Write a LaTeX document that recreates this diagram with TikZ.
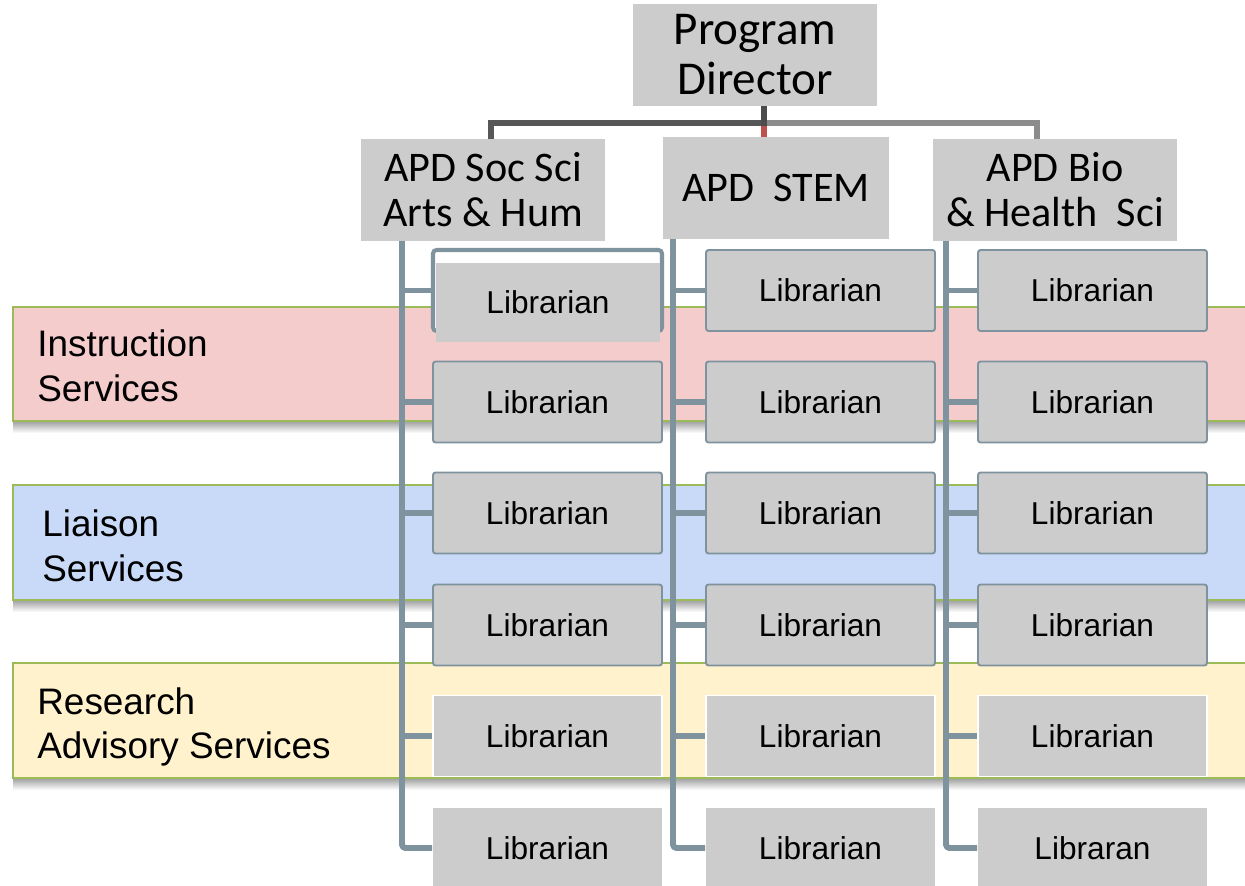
\documentclass[tikz,border=0pt]{standalone}
\usepackage{fontspec}
\setmainfont{Liberation Sans}
\newfontfamily\calfont{Carlito}
\definecolor{boxgray}{HTML}{CCCCCC}
\definecolor{barblue}{HTML}{7F939F}
\definecolor{bandgreen}{HTML}{9BBB59}
\definecolor{bandpink}{HTML}{F4CCCC}
\definecolor{bandblue}{HTML}{C9DAF8}
\definecolor{bandyellow}{HTML}{FFF2CC}
\definecolor{linkdark}{HTML}{575757}
\definecolor{linklight}{HTML}{8C8C8C}
\definecolor{linkred}{HTML}{C0504D}
\begin{document}
\begin{tikzpicture}[x=0.02cm,y=-0.02cm,
  band/.style={draw=bandgreen, line width=1pt},
  bandshade/.style={top color=black!38, bottom color=white, draw=none},
  bandlabel/.style={anchor=west, align=left, inner sep=0pt,
    font=\fontsize{21}{25.5}\selectfont},
  topbox/.style={fill=boxgray, inner sep=0pt, align=center,
    minimum width=244*0.02cm, minimum height=102*0.02cm,
    font=\calfont\fontsize{24}{25.5}\selectfont},
  libbox/.style={fill=boxgray, draw=barblue, line width=1.1pt, inner sep=0pt,
    rounded corners=1.5pt,
    minimum width=229*0.02cm, minimum height=81*0.02cm,
    font=\fontsize{18}{21}\selectfont},
  libwhite/.style={libbox, draw=white, rounded corners=0pt},
  libplain/.style={libbox, draw=none, rounded corners=0pt},
  bar/.style={draw=barblue, line width=3.4pt, line join=round},
  link/.style={line width=3pt}]

\useasboundingbox (0,0) rectangle (1245,886);
\clip (0,0) rectangle (1245,886);
\fill[white] (0,0) rectangle (1245,886);

% soft shadows under the service bands
\shade[bandshade] (13,421) rectangle (1262,433);
\shade[bandshade] (13,600) rectangle (1262,612);
\shade[bandshade] (13,778) rectangle (1262,790);

% service bands
\draw[band, fill=bandpink]   (13,307) rectangle (1262,421);
\draw[band, fill=bandblue]   (13,485) rectangle (1262,600);
\draw[band, fill=bandyellow] (13,663) rectangle (1262,778);
\node[bandlabel] (instr) at (37,366) {Instruction\\Services};
\node[bandlabel] (liais) at (42,546) {Liaison\\Services};
\node[bandlabel] (resad) at (37,727) {Research\\Advisory Services};

% director and assistant directors
\node[topbox, font=\calfont\fontsize{26.8}{28.5}\selectfont] (pd) at (755,55) {Program\\Director};
\node[topbox] (s1) at (483,190) {APD Soc Sci\\Arts \& Hum};
\node[topbox, minimum width=226*0.02cm] (stem) at (776,188) {APD\ \ STEM};
\node[topbox] (bio) at (1055,190) {APD Bio\\\&~Health\ \ Sci};

\coordinate (j)  at (764,123);
\coordinate (jl) at (491,123);
\coordinate (jr) at (1037,123);
\draw[link, linklight] (j) -- (jr) -- (bio.north -| jr);
\draw[link, linkdark] (j) -- (jl) -- (s1.north -| jl);
\draw[link, linkred, line width=3.4pt] (j) -- (stem.north -| j);
\draw[link, black!70, line width=3.4pt] (pd.south -| j) -- ([yshift=-1.5pt]j);

% librarian columns
\coordinate (b1) at (402,241);
\coordinate (b2) at (673,239);
\coordinate (b3) at (946,241);

% first librarian of column 1: outlined frame with shifted box
\node[libbox, fill=white, line width=2.3pt, rounded corners=2pt] (l11f) at (547.5,290.5) {};
\node[libplain, minimum width=224*0.02cm, minimum height=79*0.02cm] (l11) at (548,302) {Librarian};

\foreach \c/\x in {1/547.5, 2/820.5, 3/1092.5}{
  \ifnum\c>1
    \node[libbox] (l\c1) at (\x,290.5) {Librarian};
  \fi
  \node[libbox]   (l\c2) at (\x,402) {Librarian};
  \node[libbox]   (l\c3) at (\x,513) {Librarian};
  \node[libbox]   (l\c4) at (\x,625) {Librarian};
  \node[libwhite] (l\c5) at (\x,736) {Librarian};
}
\node[libplain, minimum height=80*0.02cm] (l16) at (547.5,848) {Librarian};
\node[libplain, minimum height=80*0.02cm] (l26) at (820.5,848) {Librarian};
\node[libplain, minimum height=80*0.02cm] (l36) at (1092.5,848) {Libraran};

% connectors from each assistant director to its librarians
\draw[bar, rounded corners=2pt] (b1) |- (l16.west);
\draw[bar, rounded corners=2pt] (b2) |- (l26.west);
\draw[bar, rounded corners=2pt] (b3) |- (l36.west);
\draw[bar] (b1 |- l11f.west) -- (l11f.west);
\foreach \k in {2,3,4,5}{
  \draw[bar] (b1 |- l1\k.west) -- (l1\k.west);
}
\foreach \c in {2,3}{
  \foreach \k in {1,2,3,4,5}{
    \draw[bar] (b\c |- l\c\k.west) -- (l\c\k.west);
  }
}
\end{tikzpicture}
\end{document}
